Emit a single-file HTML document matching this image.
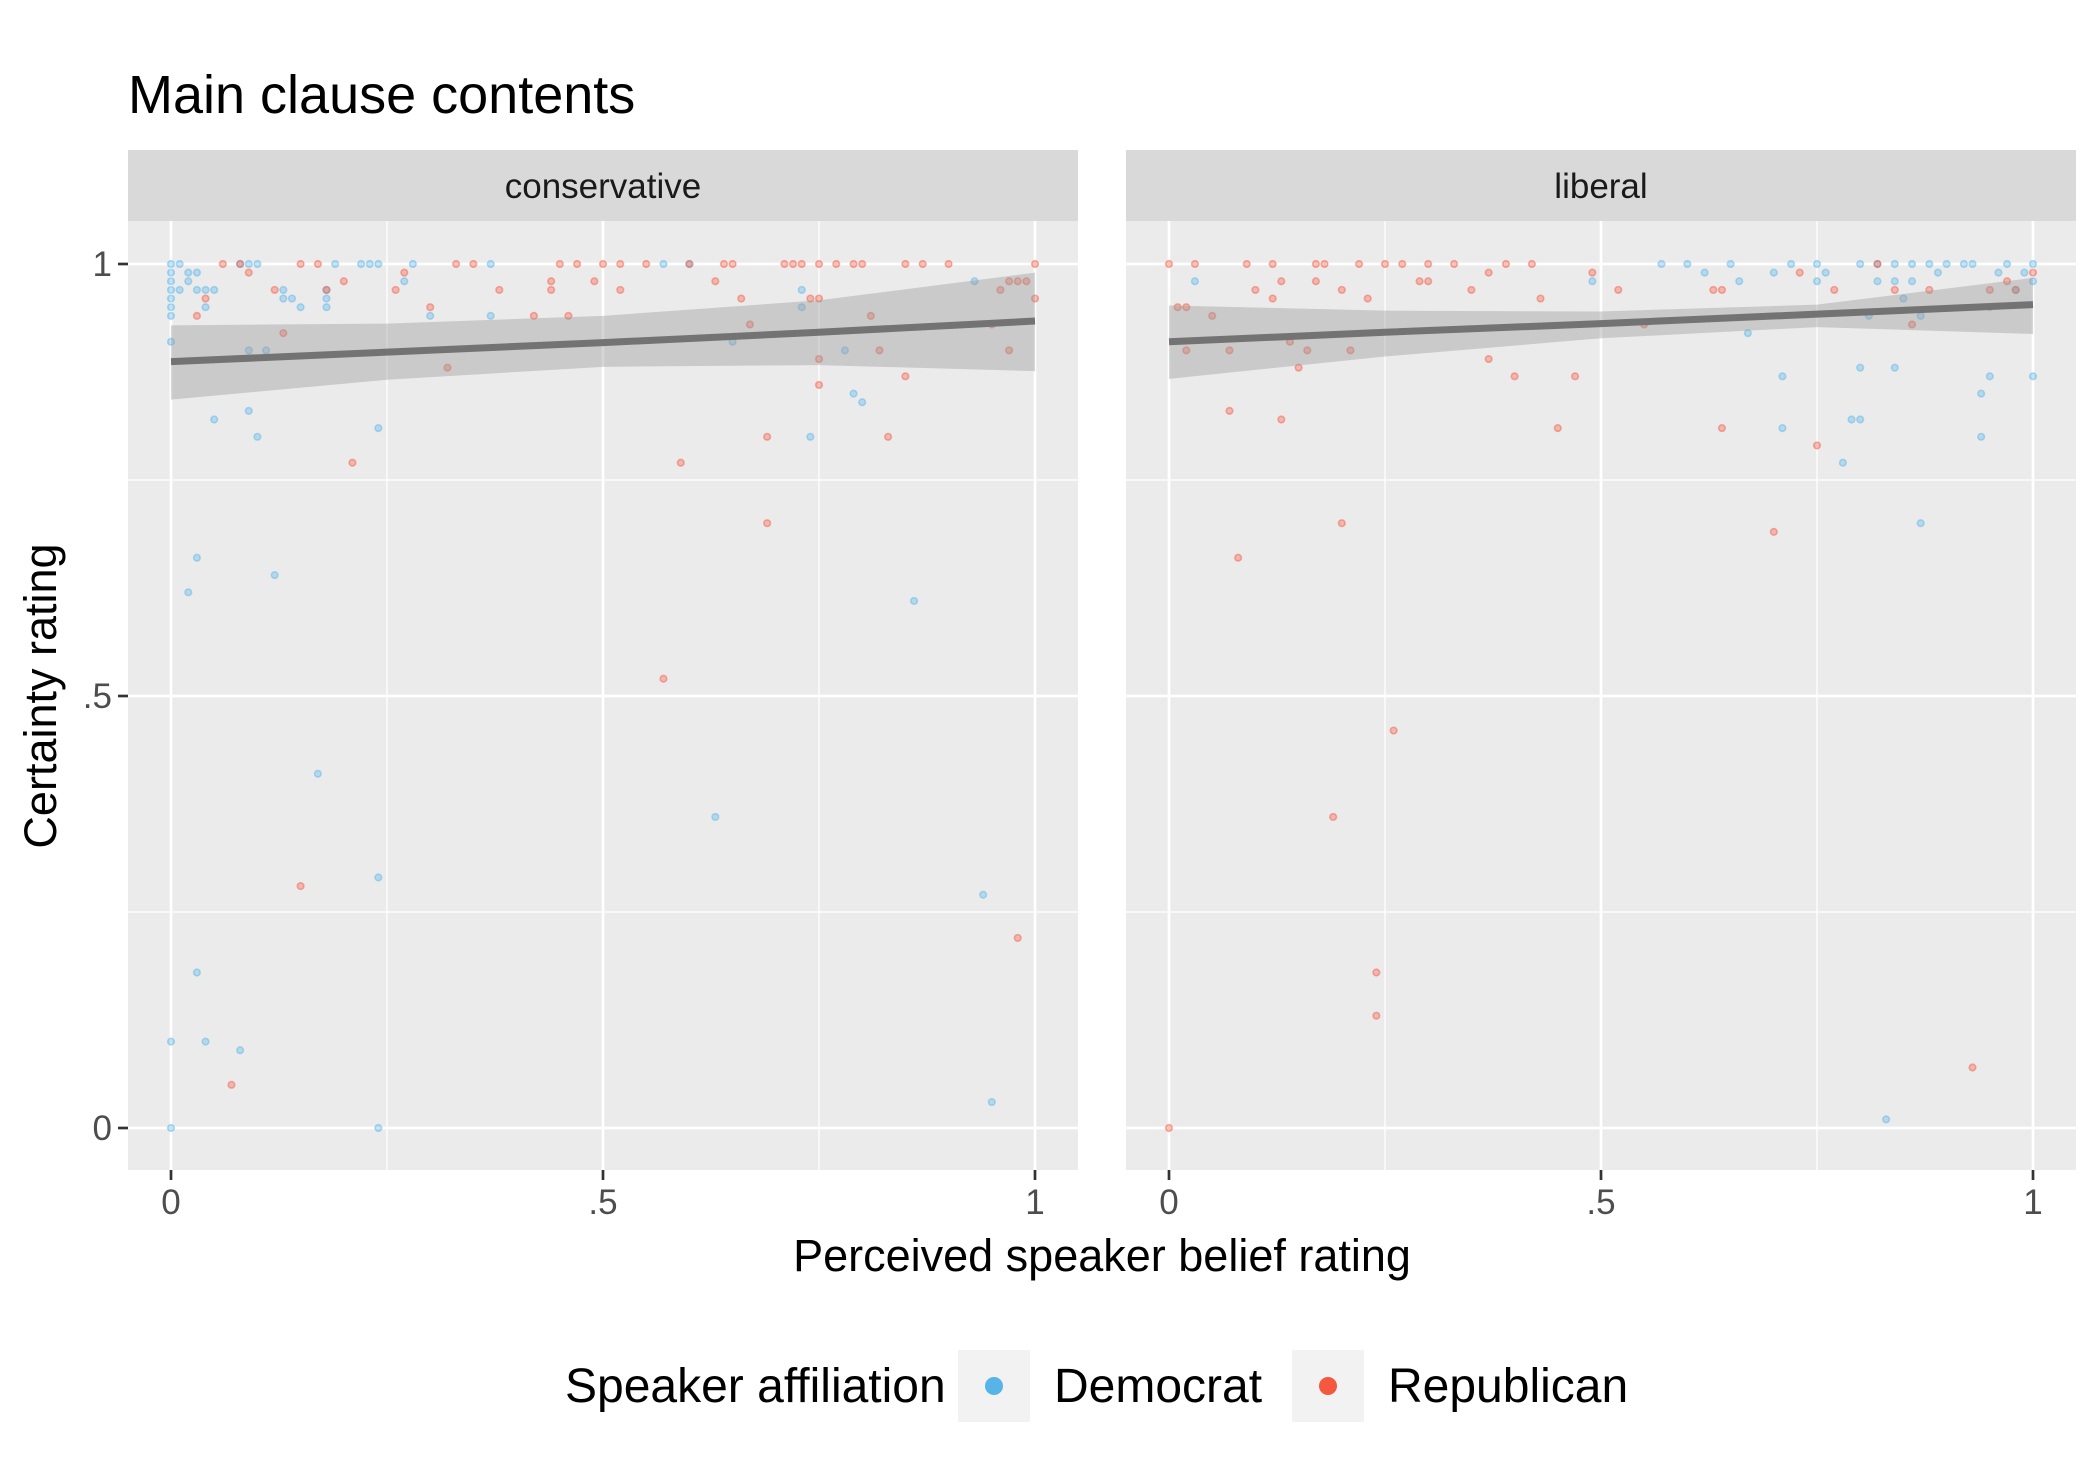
<!DOCTYPE html>
<html><head><meta charset="utf-8"><style>
html,body{margin:0;padding:0;background:#fff;}
svg{display:block;font-family:"Liberation Sans",Arial,sans-serif;}
</style></head><body>
<svg id="chart" width="2100" height="1467" viewBox="0 0 2100 1467">
<text x="128" y="113" font-size="54" fill="#000">Main clause contents</text>
<g id="panels"></g>
<text x="1102" y="1271" font-size="45" text-anchor="middle" fill="#000">Perceived speaker belief rating</text>
<text transform="translate(56,696) rotate(-90)" font-size="45" text-anchor="middle" fill="#000">Certainty rating</text>
<g>
<text x="565" y="1402" font-size="48" fill="#000">Speaker affiliation</text>
<g>
<rect x="958" y="1350" width="72" height="72" fill="#f2f2f2"></rect>
<circle cx="994" cy="1386" r="9" fill="#56B4E9"></circle>
<text x="1054" y="1402" font-size="48" fill="#000">Democrat</text></g>
<g>
<rect x="1292" y="1350" width="72" height="72" fill="#f2f2f2"></rect>
<circle cx="1328" cy="1386" r="9" fill="#F5573F"></circle>
<text x="1388" y="1402" font-size="48" fill="#000">Republican</text></g>
</g>
</svg>
<script>
const panelNames = ["conservative","liberal"];
const fitXs = [0,0.25,0.5,0.75,1];
const consFit = [0.887,0.898,0.909,0.921,0.934];
const consUpper = [0.929,0.931,0.94,0.958,0.99];
const consLower = [0.843,0.866,0.881,0.883,0.876];
const libFit = [0.91,0.921,0.931,0.942,0.953];
const libUpper = [0.952,0.946,0.945,0.953,0.984];
const libLower = [0.867,0.893,0.914,0.927,0.919];
const consDem = [[0,1],[0,0.99],[0,0.98],[0,0.97],[0,0.96],[0,0.95],[0,0.94],[0,0.91],[0,0.1],[0,0],[0.01,1],[0.01,0.97],[0.02,0.99],[0.02,0.98],[0.03,0.99],[0.03,0.97],[0.04,0.97],[0.04,0.95],[0.05,0.97],[0.02,0.62],[0.03,0.66],[0.03,0.18],[0.04,0.1],[0.05,0.82],[0.08,0.09],[0.09,0.83],[0.1,0.8],[0.09,0.9],[0.11,0.9],[0.12,0.64],[0.13,0.97],[0.13,0.96],[0.14,0.96],[0.15,0.95],[0.17,0.41],[0.18,0.97],[0.18,0.96],[0.18,0.95],[0.08,1],[0.09,1],[0.1,1],[0.19,1],[0.22,1],[0.23,1],[0.24,1],[0.24,0.81],[0.24,0.29],[0.24,0],[0.27,0.98],[0.28,1],[0.3,0.94],[0.37,0.94],[0.37,1],[0.57,1],[0.63,0.36],[0.65,0.91],[0.73,0.95],[0.73,0.97],[0.74,0.8],[0.78,0.9],[0.79,0.85],[0.8,0.84],[0.86,0.61],[0.94,0.27],[0.95,0.03],[0.93,0.98],[0.6,1]];
const consRep = [[0.06,1],[0.07,0.05],[0.08,1],[0.09,0.99],[0.04,0.96],[0.03,0.94],[0.13,0.92],[0.15,0.28],[0.12,0.97],[0.15,1],[0.17,1],[0.18,0.97],[0.2,0.98],[0.21,0.77],[0.26,0.97],[0.27,0.99],[0.3,0.95],[0.32,0.88],[0.33,1],[0.35,1],[0.38,0.97],[0.44,0.98],[0.44,0.97],[0.42,0.94],[0.45,1],[0.46,0.94],[0.47,1],[0.49,0.98],[0.5,1],[0.52,0.97],[0.52,1],[0.57,0.52],[0.59,0.77],[0.6,1],[0.63,0.98],[0.64,1],[0.65,1],[0.66,0.96],[0.67,0.93],[0.69,0.8],[0.69,0.7],[0.71,1],[0.72,1],[0.73,1],[0.74,0.96],[0.75,0.96],[0.75,0.89],[0.75,0.86],[0.77,1],[0.79,1],[0.8,1],[0.81,0.94],[0.82,0.9],[0.83,0.8],[0.85,0.87],[0.85,1],[0.87,1],[0.9,1],[0.95,0.93],[0.96,0.97],[0.97,0.9],[0.97,0.98],[0.98,0.98],[0.99,0.98],[0.98,0.22],[1,1],[1,0.96],[0.75,1],[0.55,1]];
const libDem = [[0.03,0.98],[0.49,0.98],[0.57,1],[0.6,1],[0.62,0.99],[0.65,1],[0.66,0.98],[0.67,0.92],[0.7,0.99],[0.71,0.87],[0.71,0.81],[0.72,1],[0.75,1],[0.75,0.98],[0.76,0.99],[0.78,0.77],[0.79,0.82],[0.8,0.82],[0.8,0.88],[0.81,0.94],[0.82,0.98],[0.83,0.01],[0.84,0.88],[0.84,0.98],[0.85,0.96],[0.86,1],[0.87,0.94],[0.87,0.7],[0.88,1],[0.89,0.99],[0.9,1],[0.92,1],[0.93,1],[0.94,0.85],[0.94,0.8],[0.95,0.87],[0.96,0.99],[0.97,1],[0.98,0.97],[0.99,0.99],[1,1],[1,0.98],[1,0.87],[0.8,1],[0.82,1],[0.84,1],[0.86,0.98],[0.95,0.95]];
const libRep = [[0,1],[0,0],[0.01,0.95],[0.02,0.95],[0.02,0.9],[0.03,1],[0.05,0.94],[0.07,0.9],[0.07,0.83],[0.08,0.66],[0.09,1],[0.1,0.97],[0.12,0.96],[0.13,0.98],[0.13,0.82],[0.14,0.91],[0.15,0.88],[0.16,0.9],[0.17,0.98],[0.17,1],[0.18,1],[0.19,0.36],[0.2,0.7],[0.2,0.97],[0.21,0.9],[0.22,1],[0.23,0.96],[0.24,0.18],[0.24,0.13],[0.25,1],[0.26,0.46],[0.27,1],[0.29,0.98],[0.3,1],[0.33,1],[0.35,0.97],[0.37,0.99],[0.37,0.89],[0.39,1],[0.4,0.87],[0.42,1],[0.43,0.96],[0.45,0.81],[0.47,0.87],[0.49,0.99],[0.52,0.97],[0.55,0.93],[0.63,0.97],[0.64,0.97],[0.64,0.81],[0.7,0.69],[0.73,0.99],[0.75,0.79],[0.77,0.97],[0.82,1],[0.84,0.97],[0.86,0.93],[0.88,0.97],[0.93,0.07],[0.95,0.97],[0.97,0.98],[0.98,0.97],[1,0.99],[0.3,0.98],[0.12,1]];
const majorTicks = [0,0.5,1];
const tickLabels = ["0",".5","1"];
const minorTicks = [0.25,0.75];

const NS="http://www.w3.org/2000/svg";
const panelsG=document.getElementById('panels');
function mk(tag,attrs,parent){const e=document.createElementNS(NS,tag);for(const k in attrs)e.setAttribute(k,attrs[k]);parent.appendChild(e);return e;}
const panelLeft=[128,1126], PW=950, panelTop=150, stripB=221, panelBottom=1170;
const yScale=v=>1128-864*v;
const panelData=[
 {fit:consFit,up:consUpper,lo:consLower,dem:consDem,rep:consRep},
 {fit:libFit,up:libUpper,lo:libLower,dem:libDem,rep:libRep}];
panelNames.forEach((name,i)=>{
 const L=panelLeft[i];
 const xScale=v=>L+43+864*v;
 const pg=mk('g',{},panelsG);
 
 
 mk('rect',{x:L,y:stripB,width:PW,height:panelBottom-stripB,fill:'#ebebeb'},pg);
 const strip=mk('rect',{x:L,y:panelTop,width:PW,height:stripB-panelTop,fill:'#d9d9d9'},pg);
 
 
 const st=mk('text',{x:L+PW/2,y:198,'font-size':35,'text-anchor':'middle',fill:'#1a1a1a'},pg);
 st.textContent=name;
 
 
 minorTicks.forEach(t=>{
  mk('line',{x1:xScale(t),x2:xScale(t),y1:stripB,y2:panelBottom,stroke:'#fff','stroke-width':1.3},pg);
  mk('line',{x1:L,x2:L+PW,y1:yScale(t),y2:yScale(t),stroke:'#fff','stroke-width':1.3},pg);
 });
 majorTicks.forEach((t,j)=>{
  mk('line',{x1:xScale(t),x2:xScale(t),y1:stripB,y2:panelBottom,stroke:'#fff','stroke-width':2.7},pg);
  mk('line',{x1:L,x2:L+PW,y1:yScale(t),y2:yScale(t),stroke:'#fff','stroke-width':2.7},pg);
  mk('line',{x1:xScale(t),x2:xScale(t),y1:panelBottom,y2:panelBottom+10,stroke:'#333','stroke-width':2.7},pg);
  const tl=mk('text',{x:xScale(t),y:panelBottom+44,'font-size':35,'text-anchor':'middle',fill:'#4d4d4d'},pg);
  tl.textContent=tickLabels[j];
  
  
  if(i===0){
   mk('line',{x1:L-10,x2:L,y1:yScale(t),y2:yScale(t),stroke:'#333','stroke-width':2.7},pg);
   const yl=mk('text',{x:L-16,y:yScale(t)+12,'font-size':35,'text-anchor':'end',fill:'#4d4d4d'},pg);
   yl.textContent=tickLabels[j];
   
   
  }
 });
 const d=panelData[i];
 const drawPts=(pts,col,nm)=>pts.forEach(p=>{
  const c=mk('circle',{cx:xScale(p[0]),cy:yScale(p[1]),r:3.3,fill:col,'fill-opacity':0.35,stroke:col,'stroke-opacity':0.45,'stroke-width':1.6},pg);
  
  
 });
 drawPts(d.dem,'#56B4E9','point-democrat');
 drawPts(d.rep,'#F5573F','point-republican');
 let pts=fitXs.map((x,k)=>xScale(x)+','+yScale(d.up[k]));
 pts=pts.concat(fitXs.map((x,k)=>xScale(x)+','+yScale(d.lo[k])).reverse());
 const rib=mk('polygon',{points:pts.join(' '),fill:'#999','fill-opacity':0.4},pg);
 
 
 const ln=mk('polyline',{points:fitXs.map((x,k)=>xScale(x)+','+yScale(d.fit[k])).join(' '),fill:'none',stroke:'#737373','stroke-width':7},pg);
 
 
});
</script>
</body></html>
